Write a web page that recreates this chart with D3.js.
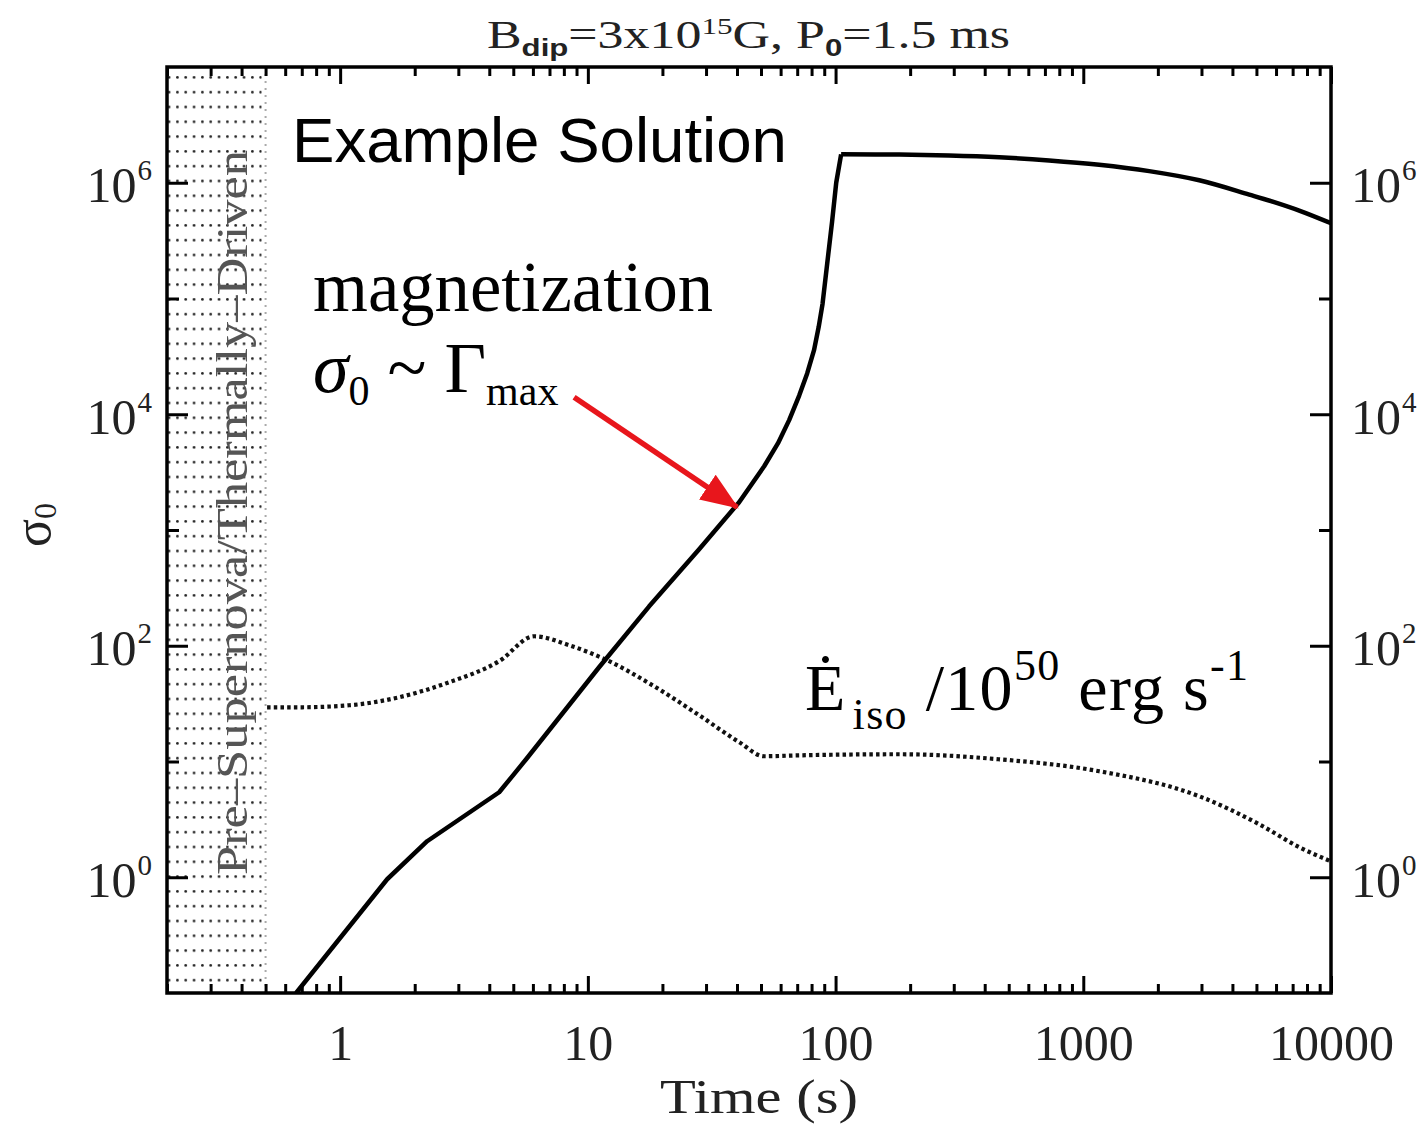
<!DOCTYPE html>
<html><head><meta charset="utf-8">
<script src="https://cdn.jsdelivr.net/npm/d3@7"></script>
<style>body{margin:0;background:#fff} svg{display:block}</style>
</head><body>
<svg id="c" width="1424" height="1128"></svg>
<script>
// ---- data ----
const sigmaTime  = [0.664, 1.548, 2.245, 4.385, 5.634, 11.1, 17.68, 28.14, 40.8, 51.5, 58.5, 64.96, 71.3, 76.8, 81.9, 85.5, 88.6, 92.5, 96.8, 100.6, 105.3, 180.7, 287, 457.7, 728, 1159, 1845, 2938, 4677, 5900, 7440, 10000];
const sigmaValue = [0.1, 0.961, 2.047, 5.424, 10.46, 65.2, 219, 682, 1737, 3556, 5600, 8900, 14500, 22500, 36000, 57000, 90000, 2.0e5, 4.6e5, 1.0e6, 1.76e6, 1.75e6, 1.72e6, 1.66e6, 1.56e6, 1.43e6, 1.26e6, 1.05e6, 7.9e5, 6.8e5, 5.75e5, 4.47e5];
const sigmaPeakTime = 105.3;
const powerTime  = [0.507, 0.683, 1.087, 1.73, 2.754, 4.385, 6.07, 8.41, 12.19, 17.68, 28.14, 40.8, 51.5, 71.3, 180.7, 457.7, 1159, 2938, 5130, 7440, 10000];
const powerValue = [29.4, 29.4, 30.6, 35.9, 48.4, 73.5, 120.8, 101, 73.5, 47.4, 25.1, 14.7, 11.1, 11.3, 11.55, 10.45, 8.24, 5.01, 2.87, 1.82, 1.37];
const xMajorTicks = [1, 10, 100, 1000, 10000];
const xTickLabels = ["1", "10", "100", "1000", "10000"];
const yMajorTicks = [1, 100, 1e4, 1e6];
const yMinorTicks = [10, 1000, 1e5];
const yTickExponents = ["0", "2", "4", "6"];
const shadedRange = [0.2, 0.5];
const arrowFrom = [8.8, 14020];
const arrowTo = [40.06, 1572];

// ---- layout ----
const svg = d3.select("#c");
const L = 167, R = 1331, T = 67, B = 993;
const x = d3.scaleLog().domain([0.2, 10000]).range([L, R]);
const y = d3.scaleLog().domain([0.1, 1e7]).range([B, T]);
const serif = "'Liberation Serif','Times New Roman',serif";

const xMinorTicks = [];
[0.1, 1, 10, 100, 1000].forEach(d => { for (let k = 2; k <= 9; k++) { const v = d * k; if (v >= 0.2 && v <= 10000) xMinorTicks.push(v); } });

// defs
const defs = svg.append("defs");
const pat = defs.append("pattern").attr("id", "dots").attr("patternUnits", "userSpaceOnUse")
  .attr("x", 176).attr("y", 76).attr("width", 8.33).attr("height", 14.8);
pat.append("circle").attr("cx", 1.4).attr("cy", 1.4).attr("r", 1.35).attr("fill", "#222");
defs.append("clipPath").attr("id", "plotclip").append("rect")
  .attr("x", L).attr("y", T).attr("width", R - L).attr("height", B - T);
defs.append("marker").attr("id", "arrowhead").attr("markerUnits", "userSpaceOnUse")
  .attr("viewBox", "0 0 38 30").attr("refX", 36).attr("refY", 15)
  .attr("markerWidth", 38).attr("markerHeight", 30).attr("orient", "auto")
  .append("path").attr("d", "M0,0 L38,15 L0,30 Z").attr("fill", "#e8161c");

// shaded region
svg.append("rect").attr("x", x(shadedRange[0])).attr("y", T)
  .attr("width", x(shadedRange[1]) - x(shadedRange[0]) - 4).attr("height", B - T)
  .attr("fill", "url(#dots)");
svg.append("line").attr("x1", x(shadedRange[1])).attr("x2", x(shadedRange[1]))
  .attr("y1", T).attr("y2", B).attr("stroke", "#aaa").attr("stroke-width", 2)
  .attr("stroke-dasharray", "2,5");

// rotated region label
svg.append("text").attr("transform", `translate(247,${(150 + 875) / 2}) rotate(-90)`)
  .attr("text-anchor", "middle").attr("font-family", serif).attr("font-size", 45)
  .attr("fill", "#555").attr("textLength", 725).attr("lengthAdjust", "spacingAndGlyphs")
  .text("Pre–Supernova/Thermally–Driven");

// curves
const lineLin = d3.line().x(d => x(d[0])).y(d => y(d[1]));
const lineSmooth = d3.line().x(d => x(d[0])).y(d => y(d[1])).curve(d3.curveMonotoneX);
const gPlot = svg.append("g").attr("clip-path", "url(#plotclip)");
gPlot.append("path").datum(d3.zip(powerTime, powerValue)).attr("d", lineSmooth)
  .attr("fill", "none").attr("stroke", "#111").attr("stroke-width", 4.2).attr("stroke-dasharray", "3.5,3.2");
const sigmaPts = d3.zip(sigmaTime, sigmaValue);
gPlot.append("path").datum(sigmaPts.filter(d => d[0] <= sigmaPeakTime)).attr("d", lineLin)
  .attr("fill", "none").attr("stroke", "#000").attr("stroke-width", 4.5).attr("stroke-linejoin", "round");
gPlot.append("path").datum(sigmaPts.filter(d => d[0] >= sigmaPeakTime)).attr("d", lineSmooth)
  .attr("fill", "none").attr("stroke", "#000").attr("stroke-width", 4.5).attr("stroke-linejoin", "round");

// axes ticks
function ticks(axisFn, scale, vals, size, transform) {
  const g = svg.append("g").attr("transform", transform)
    .call(axisFn(scale).tickValues(vals).tickSize(size).tickSizeOuter(0).tickFormat(""));
  g.select(".domain").remove();
  g.selectAll("line").attr("stroke", "#000").attr("stroke-width", 3);
}
ticks(d3.axisTop, x, xMajorTicks, 17, `translate(0,${B})`);
ticks(d3.axisTop, x, xMinorTicks, 9, `translate(0,${B})`);
ticks(d3.axisBottom, x, xMajorTicks, 17, `translate(0,${T})`);
ticks(d3.axisBottom, x, xMinorTicks, 9, `translate(0,${T})`);
ticks(d3.axisRight, y, yMajorTicks, 21, `translate(${L},0)`);
ticks(d3.axisRight, y, yMinorTicks, 12, `translate(${L},0)`);
ticks(d3.axisLeft, y, yMajorTicks, 21, `translate(${R},0)`);
ticks(d3.axisLeft, y, yMinorTicks, 12, `translate(${R},0)`);

// frame
svg.append("rect").attr("x", L).attr("y", T).attr("width", R - L).attr("height", B - T)
  .attr("fill", "none").attr("stroke", "#000").attr("stroke-width", 3.5);

// x tick labels
const gx = svg.append("g").attr("transform", `translate(0,${B})`)
  .call(d3.axisBottom(x).tickValues(xMajorTicks).tickSize(0).tickPadding(0)
    .tickFormat((d, i) => xTickLabels[i]));
gx.select(".domain").remove();
gx.selectAll("text").attr("y", 67).attr("dy", null).attr("font-family", serif)
  .attr("font-size", 50).attr("fill", "#222");

// y tick labels (left and right)
function yLabels(axisFn, transform, anchor, xoff) {
  const g = svg.append("g").attr("transform", transform)
    .call(axisFn(y).tickValues(yMajorTicks).tickSize(0).tickPadding(0).tickFormat(""));
  g.select(".domain").remove();
  g.selectAll("text").each(function (d, i) {
    const t = d3.select(this).attr("x", xoff).attr("dy", null).attr("y", 19)
      .attr("text-anchor", anchor).attr("font-family", serif).attr("font-size", 50).attr("fill", "#222");
    t.append("tspan").text("10");
    t.append("tspan").attr("font-size", 29).attr("dy", -22).attr("dx", 1).text(yTickExponents[i]);
  });
}
yLabels(d3.axisLeft, `translate(${L},0)`, "end", -15);
yLabels(d3.axisRight, `translate(${R},0)`, "start", 20);

// title
const title = svg.append("text").attr("x", 487).attr("y", 48).attr("font-family", serif)
  .attr("font-size", 40).attr("fill", "#222").attr("textLength", 523).attr("lengthAdjust", "spacingAndGlyphs");
title.append("tspan").text("B");
title.append("tspan").attr("font-size", 24).attr("font-weight", "bold").attr("font-family", "'Liberation Sans',sans-serif").attr("dy", 8).text("dip");
title.append("tspan").attr("dy", -8).text("=3x10");
title.append("tspan").attr("font-size", 24).attr("dy", -14).text("15");
title.append("tspan").attr("dy", 14).text("G,  P");
title.append("tspan").attr("font-size", 24).attr("font-weight", "bold").attr("font-family", "'Liberation Sans',sans-serif").attr("dy", 8).text("0");
title.append("tspan").attr("dy", -8).text("=1.5  ms");

// axis titles
svg.append("text").attr("x", 759).attr("y", 1113).attr("text-anchor", "middle")
  .attr("font-family", serif).attr("font-size", 48).attr("fill", "#222")
  .attr("textLength", 198).attr("lengthAdjust", "spacingAndGlyphs").text("Time (s)");
const yl = svg.append("text").attr("transform", "translate(50,525) rotate(-90)").attr("text-anchor", "middle")
  .attr("font-family", serif).attr("font-size", 52).attr("fill", "#222");
yl.append("tspan").text("σ");
yl.append("tspan").attr("font-size", 32).attr("dy", 6).text("0");

// annotations
svg.append("text").attr("x", 292).attr("y", 162).attr("font-family", "'Liberation Sans',Arial,sans-serif")
  .attr("font-size", 63).attr("fill", "#000").attr("textLength", 495).attr("lengthAdjust", "spacingAndGlyphs")
  .text("Example Solution");
svg.append("text").attr("x", 313).attr("y", 311).attr("font-family", serif)
  .attr("font-size", 72).attr("fill", "#000").attr("textLength", 400).attr("lengthAdjust", "spacingAndGlyphs")
  .text("magnetization");
const sg = svg.append("text").attr("x", 313).attr("y", 392).attr("font-family", serif)
  .attr("font-size", 72).attr("fill", "#000");
sg.append("tspan").attr("font-style", "italic").text("σ");
sg.append("tspan").attr("font-size", 42).attr("dy", 13).text("0");
sg.append("tspan").attr("dy", -13).text(" ~ Γ");
sg.append("tspan").attr("font-size", 42).attr("dy", 13).text("max");

const ed = svg.append("text").attr("x", 805).attr("y", 710).attr("font-family", serif)
  .attr("font-size", 66).attr("fill", "#000").attr("textLength", 443).attr("lengthAdjust", "spacing");
ed.append("tspan").text("Ė");
ed.append("tspan").attr("font-size", 44).attr("dy", 19).attr("dx", 6).text("iso");
ed.append("tspan").attr("dy", -19).text(" /10");
ed.append("tspan").attr("font-size", 44).attr("dy", -30).text("50");
ed.append("tspan").attr("dy", 30).text("  erg s");
ed.append("tspan").attr("font-size", 44).attr("dy", -30).text("-1");

// arrow
svg.append("line").attr("x1", x(arrowFrom[0])).attr("y1", y(arrowFrom[1]))
  .attr("x2", x(arrowTo[0])).attr("y2", y(arrowTo[1]))
  .attr("stroke", "#e8161c").attr("stroke-width", 5.5).attr("marker-end", "url(#arrowhead)");
</script>
</body></html>
